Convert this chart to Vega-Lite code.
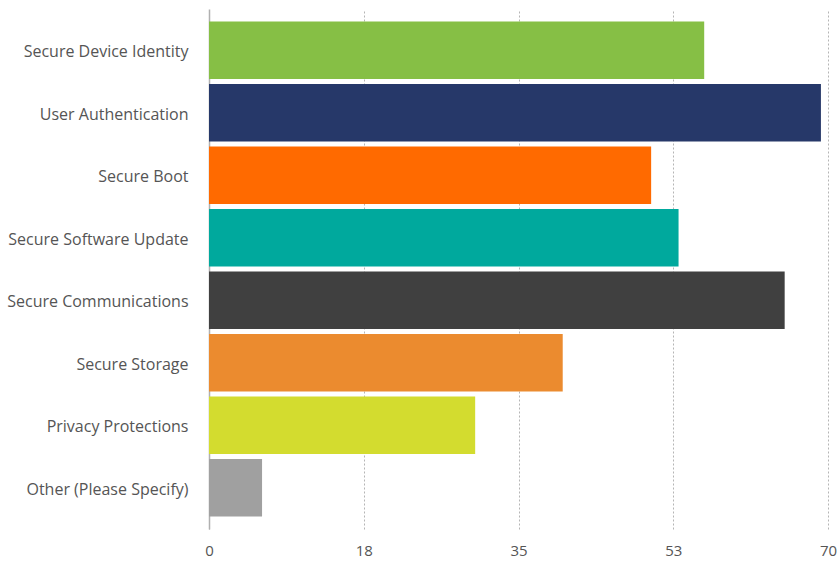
{
  "$schema": "https://vega.github.io/schema/vega-lite/v6.json",
  "width": 619,
  "height": 520,
  "autosize": {"type": "none"},
  "padding": {"left": 209, "top": 9, "right": 9, "bottom": 32},
  "background": "white",
  "config": {
    "view": {"stroke": null},
    "font": "Open Sans"
  },
  "data": {
    "values": [
      {"category": "Secure Device Identity", "value": 56},
      {"category": "User Authentication", "value": 69.2},
      {"category": "Secure Boot", "value": 50},
      {"category": "Secure Software Update", "value": 53.1},
      {"category": "Secure Communications", "value": 65.1},
      {"category": "Secure Storage", "value": 40},
      {"category": "Privacy Protections", "value": 30.1},
      {"category": "Other (Please Specify)", "value": 6}
    ]
  },
  "mark": {"type": "bar"},
  "encoding": {
    "y": {
      "field": "category",
      "type": "nominal",
      "sort": null,
      "title": null,
      "scale": {"paddingInner": 0.08, "paddingOuter": 0.2},
      "axis": {
        "ticks": false,
        "domainColor": "#b0b0b0",
        "domainWidth": 1.5,
        "labelFontSize": 16,
        "labelColor": "#555555",
        "labelPadding": 21,
        "labelOffset": 2,
        "labelLimit": 260,
        "labelFont": "Open Sans"
      }
    },
    "x": {
      "field": "value",
      "type": "quantitative",
      "title": null,
      "scale": {"domain": [0, 70], "nice": false},
      "axis": {
        "values": [0, 17.5, 35, 52.5, 70],
        "format": ".0f",
        "domain": false,
        "ticks": false,
        "grid": true,
        "gridDash": [2, 2],
        "gridColor": "#b5b5b5",
        "labelFlush": false,
        "labelFontSize": 15,
        "labelColor": "#555555",
        "labelPadding": 14,
        "labelFont": "Open Sans"
      }
    },
    "color": {
      "field": "category",
      "type": "nominal",
      "legend": null,
      "scale": {
        "domain": ["Secure Device Identity", "User Authentication", "Secure Boot", "Secure Software Update", "Secure Communications", "Secure Storage", "Privacy Protections", "Other (Please Specify)"],
        "range": ["#86bf45", "#263869", "#ff6a00", "#00a99d", "#404040", "#eb8b2f", "#d3dc2f", "#a0a0a0"]
      }
    }
  }
}
